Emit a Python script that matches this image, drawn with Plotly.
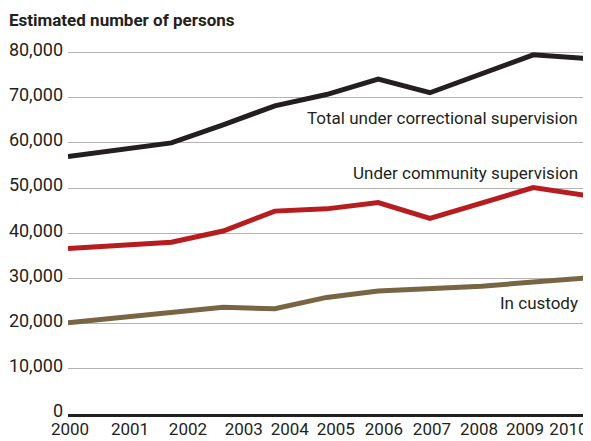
import plotly.graph_objects as go

years = [2000, 2001, 2002, 2003, 2004, 2005, 2006, 2007, 2008, 2009, 2010]
total_supervision = [57000, 58500, 60000, 64000, 68200, 70700, 74100, 71100, 75300, 79500, 78700]
community_supervision = [36600, 37300, 38000, 40500, 44900, 45400, 46800, 43300, 46700, 50100, 48400]
in_custody = [20200, 21300, 22400, 23600, 23300, 25800, 27200, 27700, 28300, 29200, 30100]
year_labels = ["2000", "2001", "2002", "2003", "2004", "2005", "2006", "2007", "2008", "2009", "2010"]
y_ticks = [0, 10000, 20000, 30000, 40000, 50000, 60000, 70000, 80000]

# label placement along the axis (as in the original artwork)
year_label_pos = [2000.04, 2001.2, 2002.32, 2003.4, 2004.29, 2005.18, 2006.11, 2007.04, 2007.95, 2008.84, 2009.68]

FONT = "Roboto, Noto Sans, sans-serif"
TXT = "#231f20"

fig = go.Figure()
fig.add_trace(go.Scatter(x=years, y=total_supervision, mode="lines",
                         line=dict(color="#231f20", width=5), name="Total under correctional supervision"))
fig.add_trace(go.Scatter(x=years, y=community_supervision, mode="lines",
                         line=dict(color="#b71c1f", width=5), name="Under community supervision"))
fig.add_trace(go.Scatter(x=years, y=in_custody, mode="lines",
                         line=dict(color="#786543", width=5), name="In custody"))

annots = [
    ("Total under correctional supervision", 65500),
    ("Under community supervision", 53300),
    ("In custody", 24600),
]
for text, yv in annots:
    fig.add_annotation(x=2009.9, y=yv, xref="x", yref="y", text=text, showarrow=False,
                       xanchor="right", yanchor="middle",
                       font=dict(family=FONT, size=17, color=TXT))

fig.add_annotation(x=0, y=1, xref="paper", yref="paper", xshift=-61, yshift=28,
                   text="<b>Estimated number of persons</b>", showarrow=False,
                   xanchor="left", yanchor="middle",
                   font=dict(family=FONT, size=17, color=TXT))

# page body has an 8px default margin, so the figure is 8px smaller than the window
fig.update_layout(
    width=583, height=433,
    margin=dict(l=60, r=6, t=40, b=27, autoexpand=False),
    paper_bgcolor="white", plot_bgcolor="white",
    showlegend=False,
    font=dict(family=FONT, size=18, color=TXT),
    xaxis=dict(range=[2000, 2010], tickmode="array", tickvals=year_label_pos, ticktext=year_labels,
               showgrid=False, zeroline=False, showline=True, linewidth=3, linecolor=TXT,
               ticks="", automargin=False, ticklabelstandoff=-2,
               tickfont=dict(family=FONT, size=17, color=TXT)),
    yaxis=dict(range=[0, 81000], tickmode="array", tickvals=y_ticks, tickformat=",d",
               showgrid=True, gridcolor="#b3b3b3", gridwidth=1, zeroline=False, showline=False,
               ticks="", automargin=False, ticklabelstandoff=4, ticklabelshift=-3,
               tickfont=dict(family=FONT, size=18, color=TXT)),
)

fig.write_html("out.html")
